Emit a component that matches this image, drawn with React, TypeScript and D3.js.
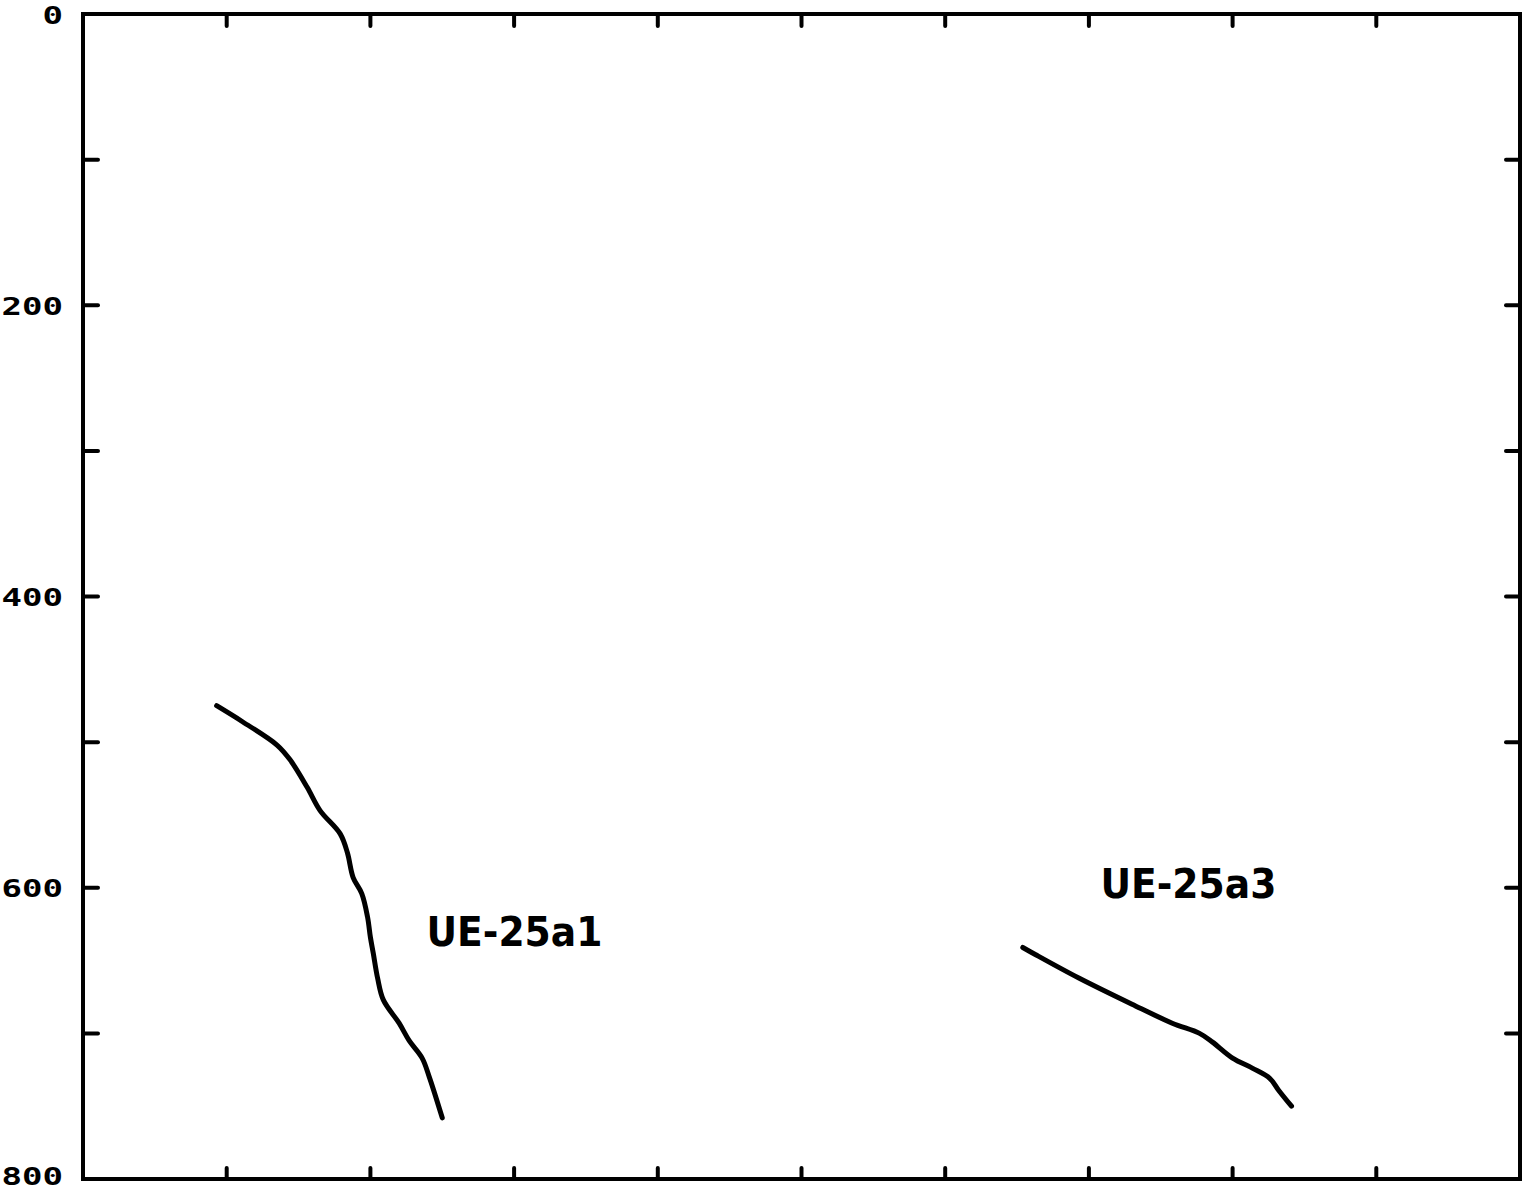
import React, { useEffect, useRef } from "react";
import * as d3 from "d3";

// depth profiles (x in plot units 0..10, depth 0..800)
const a1X = [0.93, 1.11, 1.35, 1.44, 1.56, 1.65, 1.79, 1.84, 1.88, 1.94, 1.98, 2.0, 2.02, 2.05, 2.09, 2.2, 2.27, 2.36, 2.41, 2.5];
const a1Depth = [475, 486, 502, 512, 531, 547, 563, 576, 593, 604, 620, 634, 645, 662, 677, 693, 705, 717, 730, 758];
const a3X = [6.54, 6.63, 6.93, 7.3, 7.58, 7.77, 7.86, 8.0, 8.14, 8.26, 8.32, 8.41];
const a3Depth = [641, 646, 662, 680, 693, 700, 706, 717, 724, 731, 739, 750];
const seriesNames = ["UE-25a1", "UE-25a3"];
const labelPos = [[2.39, 640], [7.08, 607]];
const yTickLabels = [0, 200, 400, 600, 800];

function App() {
  const ref = useRef<SVGSVGElement>(null);

  useEffect(() => {
    const svg = d3.select(ref.current);
    svg.selectAll("*").remove();

    const left = 83, right = 1520, top = 14, bottom = 1179;
    const x = d3.scaleLinear().domain([0, 10]).range([left, right]);
    const y = d3.scaleLinear().domain([0, 800]).range([top, bottom]);

    const g = svg.append("g");

    // frame
    g.append("rect")
      .attr("x", left).attr("y", top)
      .attr("width", right - left).attr("height", bottom - top)
      .attr("fill", "none").attr("stroke", "#000").attr("stroke-width", 4);

    const xt = d3.range(1, 10);
    const yt = d3.range(100, 800, 100);

    // inward ticks
    g.selectAll(".tt").data(xt).enter().append("line")
      .attr("x1", d => x(d)).attr("x2", d => x(d))
      .attr("y1", top).attr("y2", top + 12)
      .attr("stroke", "#000").attr("stroke-width", 4).attr("stroke-linecap", "round");
    g.selectAll(".bt").data(xt).enter().append("line")
      .attr("x1", d => x(d)).attr("x2", d => x(d))
      .attr("y1", bottom).attr("y2", bottom - 11)
      .attr("stroke", "#000").attr("stroke-width", 4).attr("stroke-linecap", "round");
    g.selectAll(".lt").data(yt).enter().append("line")
      .attr("x1", left).attr("x2", left + 15)
      .attr("y1", d => y(d)).attr("y2", d => y(d))
      .attr("stroke", "#000").attr("stroke-width", 4).attr("stroke-linecap", "round");
    g.selectAll(".rt").data(yt).enter().append("line")
      .attr("x1", right).attr("x2", right - 14)
      .attr("y1", d => y(d)).attr("y2", d => y(d))
      .attr("stroke", "#000").attr("stroke-width", 4).attr("stroke-linecap", "round");

    // y labels
    g.selectAll(".yl").data(yTickLabels).enter().append("text")
      .attr("x", 63).attr("y", d => Math.min(y(d) + 1, 1176))
      .attr("text-anchor", "end")
      .attr("dominant-baseline", "central")
      .attr("font-family", "DejaVu Sans Mono")
      .attr("font-weight", "bold")
      .attr("font-size", 25)
      .attr("textLength", d => String(d).length * 20.5)
      .attr("lengthAdjust", "spacingAndGlyphs")
      .text(d => String(d));

    const line = d3.line<[number, number]>()
      .x(d => x(d[0])).y(d => y(d[1]))
      .curve(d3.curveCatmullRom);

    const series = [
      a1X.map((v, i) => [v, a1Depth[i]] as [number, number]),
      a3X.map((v, i) => [v, a3Depth[i]] as [number, number]),
    ];
    series.forEach(s => {
      g.append("path")
        .attr("d", line(s))
        .attr("fill", "none").attr("stroke", "#000")
        .attr("stroke-width", 5).attr("stroke-linecap", "round").attr("stroke-linejoin", "round");
    });

    seriesNames.forEach((n, i) => {
      g.append("text")
        .attr("x", x(labelPos[i][0])).attr("y", y(labelPos[i][1]))
        .attr("font-family", "DejaVu Sans")
        .attr("font-weight", "bold")
        .attr("font-size", 40)
        .attr("textLength", 176)
        .attr("lengthAdjust", "spacingAndGlyphs")
        .text(n);
    });
  }, []);

  return (
    <svg ref={ref} width={1522} height={1191}
      style={{ position: "absolute", left: 0, top: 0, background: "#fff" }} />
  );
}

export default App;
